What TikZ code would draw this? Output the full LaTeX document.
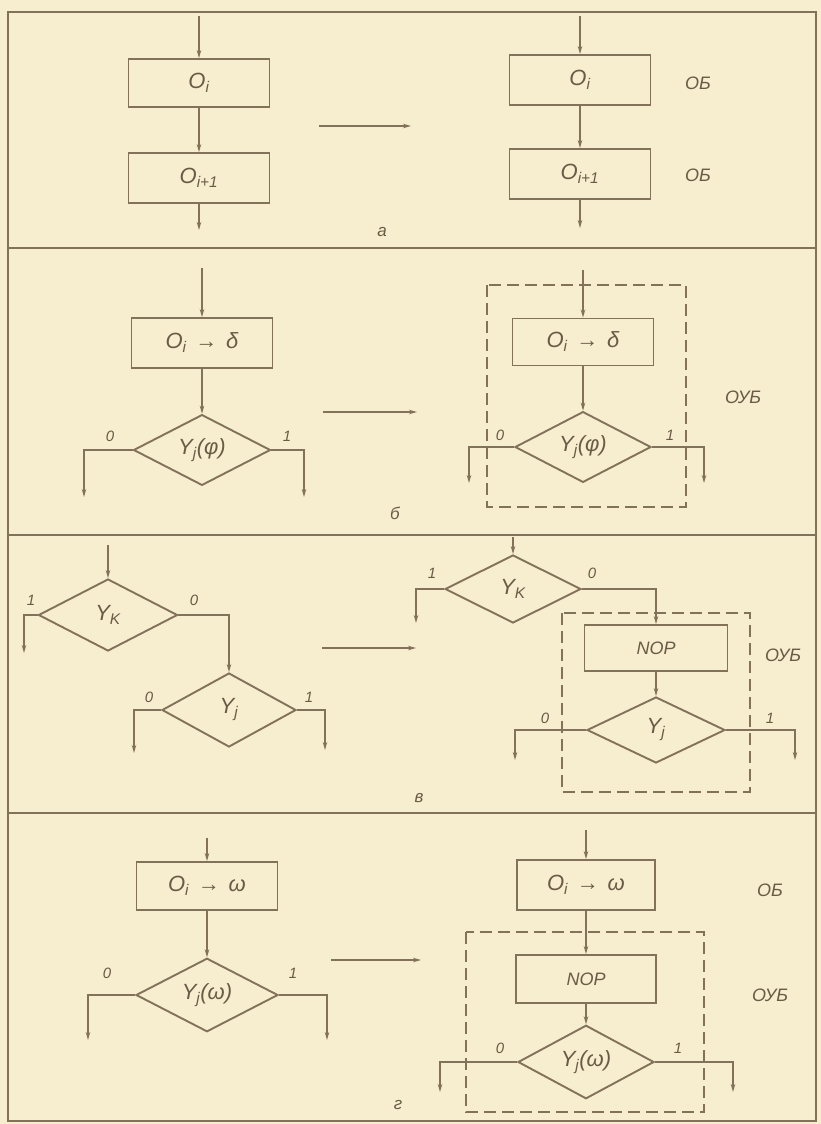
\documentclass[tikz,border=0pt]{standalone}
\usepackage{fontspec}
\setmainfont{Liberation Sans}
\usetikzlibrary{shapes.geometric,arrows.meta}
\definecolor{paper}{HTML}{F7EDCF}
\definecolor{ink}{HTML}{83725A}
\definecolor{inktext}{HTML}{6A5B46}
\tikzset{
  blk/.style={draw=ink, line width=1.9pt, rectangle, minimum width=141pt, minimum height=48pt, inner sep=0pt,
    text=inktext, font=\fontsize{22}{24}\selectfont\itshape},
  nop/.style={blk, font=\fontsize{18}{20}\selectfont\itshape},
  dec/.style={draw=ink, line width=1.9pt, diamond, minimum width=137pt, minimum height=70pt, inner sep=0pt,
    text=inktext, font=\fontsize{22}{24}\selectfont\itshape},
  arr/.style={draw=ink, line width=1.3pt, -{Stealth[length=8pt,width=4.5pt]}},
  grp/.style={draw=ink, line width=1.6pt, dash pattern=on 12pt off 6pt},
  lab/.style={text=inktext, inner sep=0pt, font=\fontsize{15}{16}\selectfont\itshape},
  tag/.style={text=inktext, inner sep=0pt, font=\fontsize{18}{20}\selectfont\itshape},
  panel/.style={text=inktext, inner sep=0pt, font=\fontsize{17}{18}\selectfont\itshape}
}
\begin{document}
\begin{tikzpicture}[x=1pt,y=-1pt,line width=1.3pt]
\useasboundingbox (0,0) rectangle (821,1124);
\fill[paper] (0,0) rectangle (821,1124);
% frame and panel separators
\draw[ink,line width=1.8pt] (8,12) rectangle (816,1121);
\draw[ink,line width=1.8pt] (8,248) -- (816,248);
\draw[ink,line width=1.8pt] (8,535) -- (816,535);
\draw[ink,line width=1.8pt] (8,813) -- (816,813);

% ---------- a ----------
\node[blk] (a1) at (199,83) {O\textsubscript{i}};
\node[blk,minimum height=50pt] (a2) at (199,178) {O\textsubscript{i+1}};
\coordinate (a0) at (199,16);
\coordinate (a9) at (199,230);
\draw[arr] (a0) -- (a1);
\draw[arr] (a1) -- (a2);
\draw[arr] (a2) -- (a9);
\coordinate (ma1) at (319,126);
\coordinate (ma2) at (411,126);
\draw[arr] (ma1) -- (ma2);
\node[blk,minimum height=50pt] (a3) at (580,80) {O\textsubscript{i}};
\node[blk,minimum height=50pt] (a4) at (580,174) {O\textsubscript{i+1}};
\coordinate (a5) at (580,16);
\coordinate (a6) at (580,228);
\draw[arr] (a5) -- (a3);
\draw[arr] (a3) -- (a4);
\draw[arr] (a4) -- (a6);
\node[tag] (ob1) at (698,83) {ОБ};
\node[tag] (ob2) at (698,175) {ОБ};
\node[panel] (pa) at (382,232) {а};

% ---------- b ----------
\node[blk,minimum height=50pt] (b1) at (202,343) {O\textsubscript{i}\hspace{0.4em}→\hspace{0.4em}δ};
\node[dec] (b2) at (202,450) {Y\textsubscript{j}(φ)};
\coordinate (b0) at (202,268);
\draw[arr] (b0) -- (b1);
\draw[arr] (b1) -- (b2);
\node[lab] (b2z) at (110,436) {0};
\node[lab] (b2o) at (287,436) {1};
\coordinate (b2l) at (84,497);
\coordinate (b2r) at (304,497);
\draw[arr] (b2.west) -| (b2l);
\draw[arr] (b2.east) -| (b2r);
\coordinate (mb1) at (323,412);
\coordinate (mb2) at (417,412);
\draw[arr] (mb1) -- (mb2);
\draw[grp] (487,285) rectangle (686,507);
\node[blk,minimum height=47pt] (b3) at (583,342) {O\textsubscript{i}\hspace{0.4em}→\hspace{0.4em}δ};
\node[dec,minimum width=136pt,minimum height=67pt] (b4) at (583,447) {Y\textsubscript{j}(φ)};
\coordinate (b5) at (583,270);
\draw[arr] (b5) -- (b3);
\draw[arr] (b3) -- (b4);
\node[lab] (b4z) at (500,435) {0};
\node[lab] (b4o) at (670,435) {1};
\coordinate (b4l) at (469,483);
\coordinate (b4r) at (704,483);
\draw[arr] (b4.west) -| (b4l);
\draw[arr] (b4.east) -| (b4r);
\node[tag] (oub1) at (743,397) {ОУБ};
\node[panel] (pb) at (395,513) {б};

% ---------- v ----------
\node[dec,minimum width=139pt,minimum height=72pt] (c1) at (108,615) {Y\textsubscript{K}};
\coordinate (c0) at (108,545);
\draw[arr] (c0) -- (c1);
\node[lab] (c1o) at (31,600) {1};
\node[lab] (c1z) at (194,600) {0};
\coordinate (c1l) at (24,653);
\draw[arr] (c1.west) -| (c1l);
\node[dec,minimum width=134pt,minimum height=74pt] (c2) at (229,710) {Y\textsubscript{j}};
\draw[arr] (c1.east) -| (c2.north);
\node[lab] (c2z) at (149,697) {0};
\node[lab] (c2o) at (309,697) {1};
\coordinate (c2l) at (134,753);
\coordinate (c2r) at (325,750);
\draw[arr] (c2.west) -| (c2l);
\draw[arr] (c2.east) -| (c2r);
\coordinate (mc1) at (322,648);
\coordinate (mc2) at (416,648);
\draw[arr] (mc1) -- (mc2);
\node[dec,minimum width=136pt,minimum height=68pt] (c3) at (513,589) {Y\textsubscript{K}};
\coordinate (c3in) at (513,537);
\draw[arr] (c3in) -- (c3);
\node[lab] (c3o) at (432,573) {1};
\node[lab] (c3z) at (592,573) {0};
\coordinate (c3l) at (416,623);
\draw[arr] (c3.west) -| (c3l);
\draw[grp] (562,613) rectangle (750,792);
\node[nop,minimum width=143pt,minimum height=46pt] (c4) at (656,648) {NOP};
\draw[arr] (c3.east) -| (c4.north);
\node[dec,minimum width=138pt,minimum height=66pt] (c5) at (656,730) {Y\textsubscript{j}};
\draw[arr] (c4) -- (c5);
\node[lab] (c5z) at (545,718) {0};
\node[lab] (c5o) at (770,718) {1};
\coordinate (c5l) at (515,760);
\coordinate (c5r) at (795,760);
\draw[arr] (c5.west) -| (c5l);
\draw[arr] (c5.east) -| (c5r);
\node[tag] (oub2) at (783,655) {ОУБ};
\node[panel] (pc) at (419,798) {в};

% ---------- g ----------
\node[blk] (d1) at (207,886) {O\textsubscript{i}\hspace{0.4em}→\hspace{0.4em}ω};
\node[dec,minimum width=142pt] (d2) at (207,995) {Y\textsubscript{j}(ω)};
\coordinate (d0) at (207,838);
\draw[arr] (d0) -- (d1);
\draw[arr] (d1) -- (d2);
\node[lab] (d2z) at (107,973) {0};
\node[lab] (d2o) at (293,973) {1};
\coordinate (d2l) at (88,1040);
\coordinate (d2r) at (327,1040);
\draw[arr] (d2.west) -| (d2l);
\draw[arr] (d2.east) -| (d2r);
\coordinate (md1) at (331,960);
\coordinate (md2) at (421,960);
\draw[arr] (md1) -- (md2);
\node[blk,minimum width=138pt,minimum height=50pt] (d3) at (586,885) {O\textsubscript{i}\hspace{0.4em}→\hspace{0.4em}ω};
\coordinate (d3in) at (586,830);
\draw[arr] (d3in) -- (d3);
\node[tag] (ob3) at (770,890) {ОБ};
\draw[grp] (466,932) rectangle (704,1112);
\node[nop,minimum width=140pt] (d4) at (586,979) {NOP};
\draw[arr] (d3) -- (d4);
\node[tag] (oub3) at (770,995) {ОУБ};
\node[dec,minimum width=136pt,minimum height=66pt] (d5) at (586,1062) {Y\textsubscript{j}(ω)};
\draw[arr] (d4) -- (d5);
\node[lab] (d5z) at (500,1048) {0};
\node[lab] (d5o) at (678,1048) {1};
\coordinate (d5l) at (440,1092);
\coordinate (d5r) at (733,1092);
\draw[arr] (d5.west) -| (d5l);
\draw[arr] (d5.east) -| (d5r);
\node[panel] (pd) at (398,1105) {г};
\end{tikzpicture}
\end{document}
